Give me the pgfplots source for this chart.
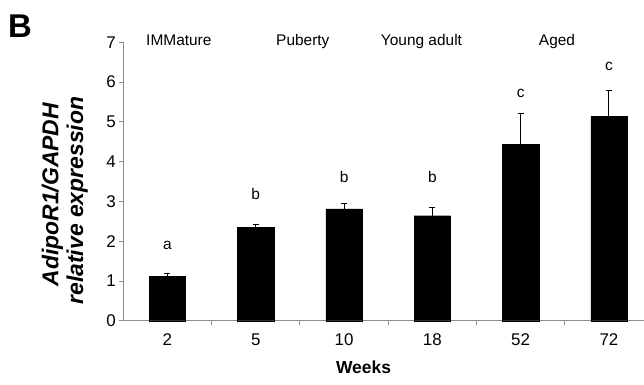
\documentclass[border=0pt]{standalone}
\usepackage{pgfplots}
\pgfplotsset{compat=1.18}
\usepackage{fontspec}
\setmainfont{Liberation Sans}
\definecolor{axgray}{HTML}{8C8C8C}
\begin{document}
\begin{tikzpicture}
\begin{axis}[
  scale only axis, width=520.7bp, height=278.4bp,
  xmin=-0.5, xmax=5.397, ymin=0, ymax=7,
  axis x line*=bottom, axis y line*=left,
  axis line style={draw=axgray, line width=0.8bp},
  ybar, bar width=36.3bp,
  xtick={0,1,2,3,4,5},
  xticklabels={2,5,10,18,52,72},
  major x tick style={draw=none},
  minor xtick={0.5,1.5,2.5,3.5,4.5},
  ytick={0,1,2,3,4,5,6,7},
  tick align=outside,
  major tick length=4bp, minor tick length=4bp,
  tick style={draw=axgray, line width=0.8bp},
  /pgf/number format/assume math mode=true,
  ticklabel style={font=\fontsize{17}{17}\selectfont, text=black},
  xticklabel style={text height=12.3bp, text depth=0pt, yshift=-4.5bp},
  clip=false,
]
\addplot[fill=black, draw=black,
  error bars/.cd, y dir=plus, y explicit,
  error bar style={line width=1bp, black},
  error mark options={rotate=90, mark size=3bp, line width=1bp, black}]
  coordinates {
  (0,1.12) +- (0,0.07)
  (1,2.35) +- (0,0.06)
  (2,2.81) +- (0,0.13)
  (3,2.64) +- (0,0.20)
  (4,4.43) +- (0,0.78)
  (5,5.14) +- (0,0.66)
  };
\coordinate (ll) at (rel axis cs:0,0);
\coordinate (ur) at (rel axis cs:1,1);
% significance letters
\begin{scope}[every node/.style={anchor=base, font=\fontsize{15.5}{15.5}\selectfont}]
\node at (axis cs:0,1.78) {a};
\node at (axis cs:1,3.035) {b};
\node at (axis cs:2,3.47) {b};
\node at (axis cs:3,3.47) {b};
\node at (axis cs:4,5.607) {c};
\node at (axis cs:5,6.28) {c};
% group labels
\node at (axis cs:0.129,6.93) {IMMature};
\node at (axis cs:1.533,6.93) {Puberty};
\node at (axis cs:2.877,6.93) {Young adult};
\node at (axis cs:4.412,6.93) {Aged};
\end{scope}
\node[anchor=base, font=\fontsize{17.5}{17.5}\selectfont\bfseries] at (axis cs:2.221,-1.323) {Weeks};
\node[anchor=base, rotate=90, font=\fontsize{23}{23}\selectfont\bfseries\itshape] at (axis cs:-1.236,3.17) {AdipoR1/GAPDH};
\node[anchor=base, rotate=90, font=\fontsize{23}{23}\selectfont\bfseries\itshape] at (axis cs:-0.956,3.02) {relative expression};
\node[anchor=base, font=\fontsize{33}{33}\selectfont\bfseries] at (axis cs:-1.67,7.133) {B};
\end{axis}
\pgfresetboundingbox
\path[use as bounding box] ([shift={(-123.3bp,-64.3bp)}]ll) rectangle ([shift={(0bp,42.3bp)}]ur);
\end{tikzpicture}
\end{document}
